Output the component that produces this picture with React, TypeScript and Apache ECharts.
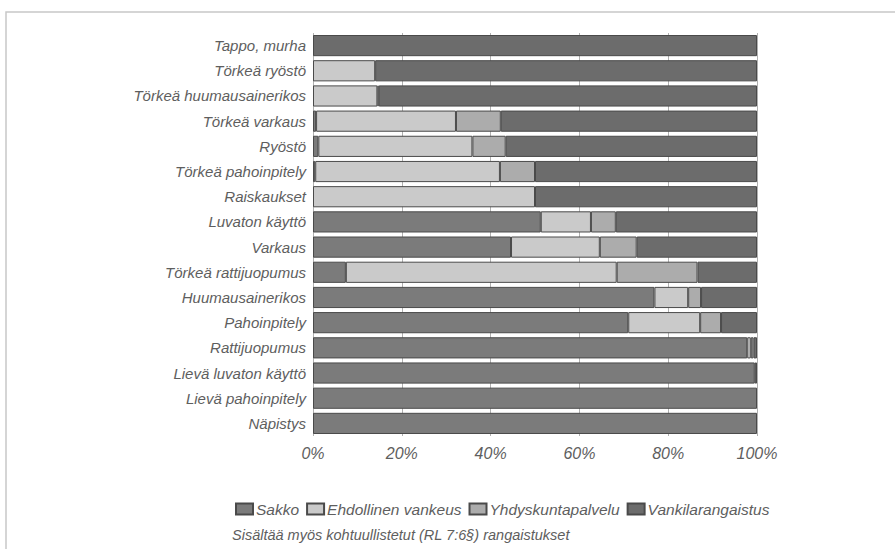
import React, { useEffect, useRef } from "react";
import * as echarts from "echarts";

const categories = [
  "Tappo, murha",
  "Törkeä ryöstö",
  "Törkeä huumausainerikos",
  "Törkeä varkaus",
  "Ryöstö",
  "Törkeä pahoinpitely",
  "Raiskaukset",
  "Luvaton käyttö",
  "Varkaus",
  "Törkeä rattijuopumus",
  "Huumausainerikos",
  "Pahoinpitely",
  "Rattijuopumus",
  "Lievä luvaton käyttö",
  "Lievä pahoinpitely",
  "Näpistys",
];

const sakko = [0, 0, 0, 0.7, 1.2, 0.5, 0, 51.3, 44.6, 7.4, 76.9, 71.0, 97.8, 99.5, 100, 100];
const ehdollinen = [0, 14.0, 14.5, 31.5, 34.7, 41.6, 50.0, 11.3, 20.0, 61.0, 7.6, 16.2, 0.8, 0, 0, 0];
const yhdyskunta = [0, 0, 0.3, 10.1, 7.5, 7.9, 0, 5.6, 8.3, 18.2, 2.9, 4.7, 0.6, 0, 0, 0];
const vankila = [100, 86.0, 85.2, 57.7, 56.6, 50.0, 50.0, 31.8, 27.1, 13.4, 12.6, 8.1, 0.8, 0.5, 0, 0];

const seriesNames = ["Sakko", "Ehdollinen vankeus", "Yhdyskuntapalvelu", "Vankilarangaistus"];
const seriesColors = ["#7b7b7b", "#cacaca", "#acacac", "#6c6c6c"];
const xTicks = [0, 20, 40, 60, 80, 100];
const footnote = "Sisältää myös kohtuullistetut (RL 7:6§) rangaistukset";

const FONT = "'Liberation Sans', Arial, sans-serif";
const TEXT = "#5e5e5e";

export default function App() {
  const ref = useRef<HTMLDivElement>(null);
  useEffect(() => {
    if (!ref.current) return;
    const chart = echarts.init(ref.current, null, { renderer: "svg" });
    const data = [sakko, ehdollinen, yhdyskunta, vankila];
    chart.setOption({
      animation: false,
      backgroundColor: "#ffffff",
      grid: { left: 313, right: 138, top: 33, bottom: 113, containLabel: false },
      xAxis: {
        type: "value",
        min: xTicks[0],
        max: xTicks[xTicks.length - 1],
        interval: 20,
        axisLine: { show: false },
        axisTick: { show: false },
        splitLine: { show: true, lineStyle: { color: "#b0b0b0", width: 1 } },
        axisLabel: {
          formatter: "{value}%",
          fontFamily: FONT,
          fontStyle: "italic",
          fontSize: 16,
          color: TEXT,
          margin: 9,
        },
      },
      yAxis: {
        type: "category",
        data: categories,
        inverse: true,
        axisLine: { show: false },
        axisTick: { show: false },
        splitLine: { show: false },
        axisLabel: {
          fontFamily: FONT,
          fontStyle: "italic",
          fontSize: 15,
          color: TEXT,
          margin: 7,
        },
      },
      legend: {
        left: 230,
        top: 496,
        itemWidth: 17,
        itemHeight: 11,
        itemGap: 7,
        icon: "rect",
        textStyle: { fontFamily: FONT, fontStyle: "italic", fontSize: 15.5, color: TEXT, padding: [0, 0, 0, -2] },
        data: seriesNames,
      },
      graphic: [
        {
          type: "rect",
          shape: { x: 6, y: 12, width: 1000, height: 1000 },
          style: { fill: "none", stroke: "#c8c8c8", lineWidth: 1.5 },
          silent: true,
        },
        {
          type: "text",
          left: 232,
          top: 527,
          style: {
            text: footnote,
            fontFamily: FONT,
            fontStyle: "italic",
            fontSize: 14.5,
            fill: TEXT,
          },
        },
      ],
      series: seriesNames.map((name, i) => ({
        name,
        type: "bar",
        stack: "total",
        barCategoryGap: "16%",
        data: data[i].map((v) => (v === 0 ? "-" : v)),
        itemStyle: { color: seriesColors[i], borderColor: "#4a4a4a", borderWidth: 1 },
        emphasis: { disabled: true },
      })),
    });
    return () => chart.dispose();
  }, []);
  return (
    <div
      ref={ref}
      style={{ position: "absolute", left: 0, top: 0, width: 895, height: 549 }}
    />
  );
}
